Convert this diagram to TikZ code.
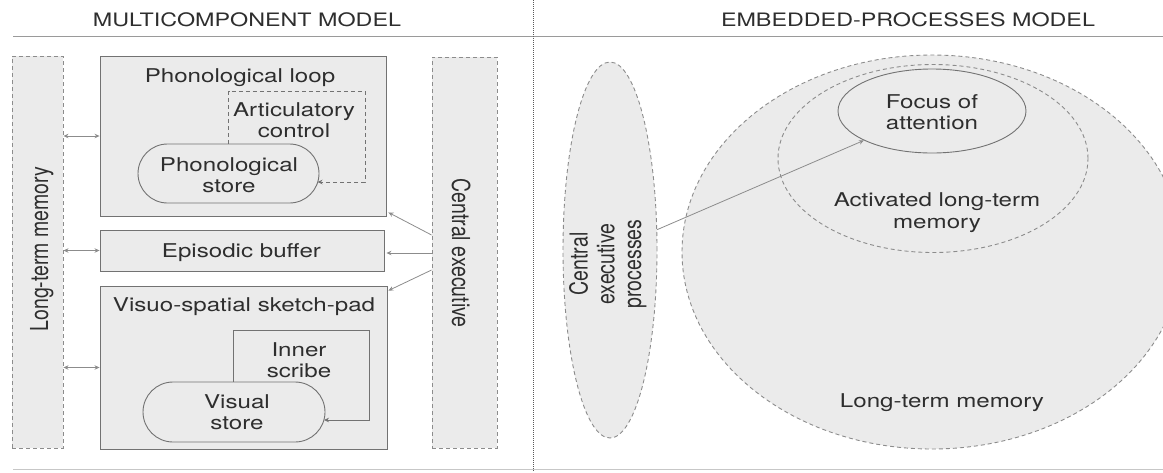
\documentclass[tikz,border=0pt]{standalone}
\usepackage{fontspec}
\setmainfont{TeX Gyre Heros}
\usepackage{graphicx}
\usetikzlibrary{shapes.misc,shapes.geometric,arrows.meta,calc}
\definecolor{fillg}{HTML}{EBEBEB}
\definecolor{lineg}{HTML}{8C8C8C}
\definecolor{boxg}{HTML}{727272}
\definecolor{txt}{HTML}{2E2E2E}
\definecolor{rulec}{HTML}{9A9A9A}
\newcommand\hs[1]{\scalebox{1.27}[1]{#1}}
\newcommand\vsc[1]{\scalebox{1}[1.27]{#1}}
\newcommand\ts[1]{\scalebox{1.26}[1]{#1}}
\begin{document}
\begin{tikzpicture}[x=1pt,y=-1pt,
  dbox/.style={draw=lineg, dash pattern=on 4pt off 3pt, line width=0.9pt, fill=fillg, inner sep=0pt},
  sbox/.style={draw=boxg, line width=0.9pt, fill=fillg, inner sep=0pt},
  lbl/.style={text=txt, font=\fontsize{19}{20.5}\selectfont, inner sep=0pt},
  rlbl/.style={text=txt, font=\fontsize{19}{21.5}\selectfont, inner sep=0pt},
  vlbl/.style={text=txt, font=\fontsize{19.5}{21}\selectfont, inner sep=0pt},
  ttl/.style={text=txt, font=\fontsize{18.5}{20}\selectfont, inner sep=0pt},
  arr/.style={draw=lineg, line width=0.8pt, -{Stealth[length=5pt,width=4.5pt]}},
  arrb/.style={draw=lineg, line width=0.8pt, {Stealth[length=5pt,width=4.5pt]}-{Stealth[length=5pt,width=4.5pt]}},
  darr/.style={draw=boxg, line width=0.8pt, dash pattern=on 4pt off 3pt, -{Stealth[length=5pt,width=4.5pt]}},
  sarr/.style={draw=boxg, line width=0.8pt, -{Stealth[length=5pt,width=4.5pt]}}
]
\useasboundingbox (0,0) rectangle (1163,472);

% rules
\draw[rulec, line width=1pt] (13,36) -- (1163,36);
\draw[black!22, line width=1pt] (13,469) -- (1163,469);
\draw[black!65, line width=0.8pt, dash pattern=on 1pt off 1pt] (533,0) -- (533,472);

% titles
\node[ttl, anchor=base] (t1) at (247,26) {\ts{MULTICOMPONENT MODEL}};
\node[ttl, anchor=base] (t2) at (908,26) {\ts{EMBEDDED-PROCESSES MODEL}};

% ---------- left panel ----------
\node[dbox, minimum width=51pt, minimum height=392pt] (ltm) at (37.5,252) {};
\node[dbox, minimum width=65pt, minimum height=391pt] (ce) at (464.5,252.5) {};
\node[sbox, minimum width=286pt, minimum height=160pt] (pl) at (243,136) {};
\node[sbox, minimum width=284pt, minimum height=41pt] (eb) at (242,250.5) {};
\node[sbox, minimum width=287pt, minimum height=163pt] (vs) at (243.5,367.5) {};

\node[vlbl, rotate=90, anchor=base] (ltmt) at (48,249) {\vsc{Long-term memory}};
\node[vlbl, rotate=-90, anchor=base] (cet) at (452,253) {\vsc{Central executive}};

\node[lbl, anchor=base] (plt) at (240,82) {\hs{Phonological loop}};
\node[lbl, anchor=base] (ebt) at (241.5,257) {\hs{Episodic buffer}};
\node[lbl, anchor=base] (vst) at (244,311) {\hs{Visuo-spatial sketch-pad}};

% phonological store and articulatory control
\node[draw=boxg, line width=0.9pt, fill=fillg, rounded rectangle, minimum width=181pt, minimum height=59pt, inner sep=0pt] (ps) at (228.5,173.5) {};
\node[lbl] (pst) at (229,178) {\hs{\begin{tabular}{@{}c@{}}Phonological\\store\end{tabular}}};
\node[lbl] (act) at (294,123) {\hs{\begin{tabular}{@{}c@{}}Articulatory\\control\end{tabular}}};
\coordinate (acTR) at (365,91);
\coordinate (psin) at (317.5,182);
\draw[darr] (ps.north) |- (acTR) |- (psin);

% visual store and inner scribe
\node[draw=boxg, line width=0.9pt, fill=fillg, rounded rectangle, minimum width=182pt, minimum height=60pt, inner sep=0pt] (vis) at (234,412) {};
\node[lbl] (vist) at (237,415) {\hs{\begin{tabular}{@{}c@{}}Visual\\store\end{tabular}}};
\node[lbl] (ist) at (299,363) {\hs{\begin{tabular}{@{}c@{}}Inner\\scribe\end{tabular}}};
\coordinate (isTR) at (369,330);
\coordinate (visin) at (324,420);
\draw[sarr] (vis.north -| 233,0) |- (isTR) |- (visin);

% LTM <-> subsystems
\draw[arrb] (ltm.east |- pl.west) -- (pl.west);
\draw[arrb] (ltm.east |- eb.west) -- (eb.west);
\draw[arrb] (ltm.east |- vs.west) -- (vs.west);

% central executive -> subsystems
\draw[arr] (ce.west |- 0,235) -- ($(pl.south east)+(2,-4)$);
\draw[arr] (ce.west |- 0,253) -- ($(eb.east |- 0,253)+(2,0)$);
\draw[arr] (ce.west |- 0,270) -- ($(vs.north east)+(1,5)$);

% ---------- right panel ----------
\begin{scope}
\clip (0,0) rectangle (1163,472);
\node[dbox, ellipse, minimum width=500pt, minimum height=394pt] (bigltm) at (932,252) {};
\end{scope}
\node[dbox, ellipse, minimum width=310pt, minimum height=188pt] (altm) at (933,158.5) {};
\node[sbox, ellipse, minimum width=188pt, minimum height=84pt] (foa) at (932,111) {};
\node[dbox, ellipse, minimum width=94pt, minimum height=376pt] (cep) at (610,250) {};

\node[rlbl] (foat) at (932,114.7) {\hs{\begin{tabular}{@{}c@{}}Focus of\\attention\end{tabular}}};
\node[rlbl] (altmt) at (937,213) {\hs{\begin{tabular}{@{}c@{}}Activated long-term\\memory\end{tabular}}};
\node[rlbl, anchor=base] (bigt) at (942,407) {\hs{Long-term memory}};
\node[vlbl, rotate=90] (cept) at (609,264) {\vsc{\begin{tabular}{@{}c@{}}Central\\executive\\processes\end{tabular}}};

\draw[arr] (cep) -- (foa);
\end{tikzpicture}
\end{document}
